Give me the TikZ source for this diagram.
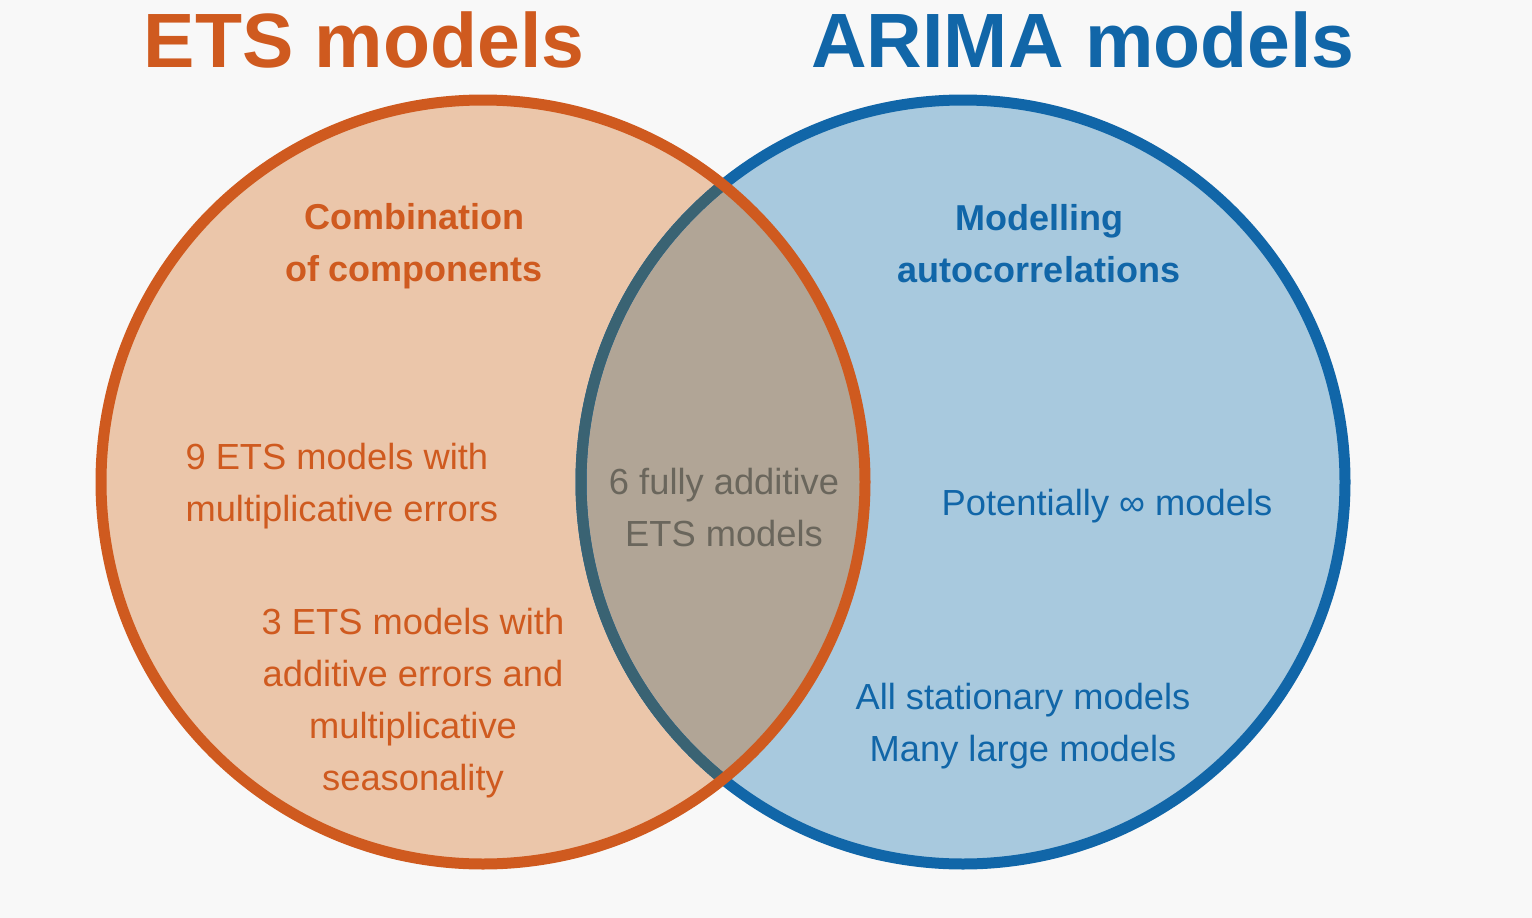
\documentclass[tikz,border=0pt]{standalone}
\usepackage{fontspec}
\setmainfont{Liberation Sans}
\usepackage{xcolor}
\usepackage{tikz}
\usetikzlibrary{positioning}

\definecolor{bgcol}{HTML}{F8F8F8}
\definecolor{etsline}{HTML}{CF5A1F}
\definecolor{etsfill}{HTML}{EBC6AA}
\definecolor{arimaline}{HTML}{1166A8}
\definecolor{arimafill}{HTML}{A8C9DE}
\definecolor{bothfill}{HTML}{B1A596}
\definecolor{bothline}{HTML}{3A6373}
\definecolor{bothtext}{HTML}{6A665C}

\begin{document}
\begin{tikzpicture}[
    x=1pt,y=-1pt,
    title/.style={
        font=\fontsize{77}{80}\selectfont\bfseries
    },
    head/.style={
        font=\fontsize{36}{52}\selectfont\bfseries,
        align=center
    },
    txt/.style={
        font=\fontsize{36.3}{52}\selectfont,
        align=center
    },
    ring/.style={line width=11pt}
]

\useasboundingbox[fill=bgcol] (0,0) rectangle (1532,918);

\coordinate (etsc)   at (483,482);
\coordinate (arimac) at (963,482);

\fill[etsfill]   (etsc) circle[radius=382pt];
\fill[arimafill] (arimac) circle[radius=382pt];
\begin{scope}
    \clip (etsc) circle[radius=382pt];
    \fill[bothfill] (arimac) circle[radius=382pt];
\end{scope}

\draw[ring, arimaline] (arimac) circle[radius=382pt];
\begin{scope}
    \clip (etsc) circle[radius=382pt];
    \draw[ring, bothline] (arimac) circle[radius=382pt];
\end{scope}
\draw[ring, etsline] (etsc) circle[radius=382pt];

\node[title, text=etsline]   (etstitle)   at (364,40)  {ETS models};
\node[title, text=arimaline] (arimatitle) at (1083,40) {ARIMA models};

\node[head, text=etsline]   (combo)    at (414,246) {Combination\\of components};
\node[head, text=arimaline] (autocorr) at (1039,244) {Modelling\\autocorrelations};

\node[txt, text=etsline, align=left, anchor=west] (multerr) at (182,486) {9 ETS models with\\multiplicative errors};
\node[txt, text=etsline] (addmult) at (413,703) {3 ETS models with\\additive errors and\\multiplicative\\seasonality};

\node[txt, text=bothtext] (fulladd) at (724,508) {6 fully additive\\ETS models};

\node[txt, text=arimaline] (infty) at (1107,506) {Potentially ∞ models};
\node[txt, text=arimaline] (statio) at (1023,726) {All stationary models\\Many large models};

\end{tikzpicture}
\end{document}
